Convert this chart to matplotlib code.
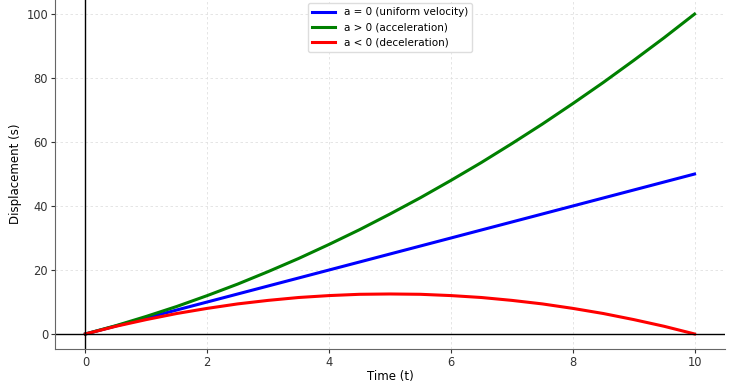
import matplotlib
matplotlib.use("Agg")
import matplotlib.pyplot as plt

# Time samples (t) and displacement values
t = [0, 0.5, 1, 1.5, 2, 2.5, 3, 3.5, 4, 4.5, 5, 5.5, 6, 6.5, 7, 7.5, 8, 8.5, 9, 9.5, 10]
s_uniform = [0, 2.5, 5, 7.5, 10, 12.5, 15, 17.5, 20, 22.5, 25, 27.5, 30, 32.5, 35, 37.5, 40, 42.5, 45, 47.5, 50]
s_accel = [0, 2.6, 5.5, 8.6, 12, 15.6, 19.5, 23.6, 28, 32.6, 37.5, 42.6, 48, 53.6, 59.5, 65.6, 72, 78.6, 85.5, 92.6, 100]
s_decel = [0, 2.4, 4.5, 6.4, 8, 9.4, 10.5, 11.4, 12, 12.4, 12.5, 12.4, 12, 11.4, 10.5, 9.4, 8, 6.4, 4.5, 2.4, 0]

labels = ["a = 0 (uniform velocity)", "a > 0 (acceleration)", "a < 0 (deceleration)"]
colors = ["blue", "green", "red"]
xticks = [0, 2, 4, 6, 8, 10]
yticks = [0, 20, 40, 60, 80, 100]

fig = plt.figure(figsize=(7.29, 3.83), dpi=100)
ax = fig.add_axes([55/729, 1 - 349/383, (725 - 55)/729, 349/383 + 0.005])

for s, lab, c in zip([s_uniform, s_accel, s_decel], labels, colors):
    ax.plot(t, s, color=c, lw=2.2, label=lab)

ax.axhline(0, color="black", lw=1)
ax.axvline(0, color="black", lw=1)

ax.set_xlim(-0.5, 10.5)
ax.set_ylim(-4.7, 105)
ax.set_xticks(xticks)
ax.set_yticks(yticks)
ax.grid(True, linestyle=(0, (3, 3)), color="#e0e0e0", lw=0.6)
ax.spines["top"].set_visible(False)
ax.spines["right"].set_visible(False)
for sp in ("left", "bottom"):
    ax.spines[sp].set_color("#666666")
ax.tick_params(labelsize=8.3, colors="#333333", length=3, pad=2)
ax.set_xlabel("Time (t)", fontsize=8.5, labelpad=1)
ax.set_ylabel("Displacement (s)", fontsize=8.5, labelpad=3)
ax.legend(loc="upper center", fontsize=7.5, bbox_to_anchor=(0.5, 1.0), borderaxespad=0.5,
          handlelength=2.2, framealpha=1, edgecolor="#dddddd")

fig.savefig("out.png", dpi=100)
